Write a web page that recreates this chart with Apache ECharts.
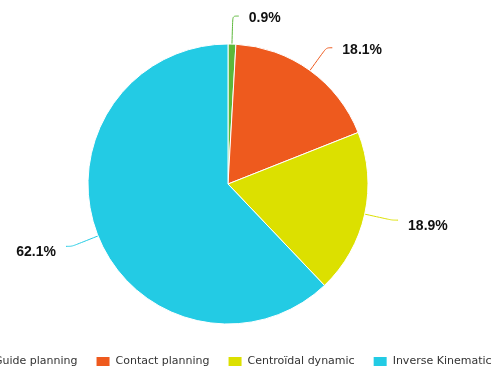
<!DOCTYPE html>
<html><head><meta charset="utf-8">
<script src="https://cdn.jsdelivr.net/npm/echarts@6/dist/echarts.min.js"></script>
<style>html,body{margin:0;padding:0;background:#fff}#c{width:495px;height:369px}</style>
</head><body><div id="c"></div>
<script>
var categories = ['Guide planning', 'Contact planning', 'Centroïdal dynamic', 'Inverse Kinematic'];
var values = [0.9, 18.1, 18.9, 62.1];
var colors = ['#5cb83a', '#ee5a1e', '#dce000', '#23cbe4'];

var chart = echarts.init(document.getElementById('c'));
chart.setOption({
  animation: false,
  color: colors,
  legend: {
    data: categories,
    bottom: -4,
    left: -32,
    width: 700,
    icon: 'rect',
    itemWidth: 15,
    itemHeight: 11,
    itemGap: 17,
    textStyle: { fontFamily: 'DejaVu Sans', fontSize: 11, color: '#333' }
  },
  series: [{
    type: 'pie',
    center: [228, 184],
    radius: 140,
    startAngle: 90,
    itemStyle: { borderColor: '#fff', borderWidth: 1 },
    label: {
      formatter: function (p) { return p.value.toFixed(1) + '%'; },
      fontFamily: 'Liberation Sans',
      fontWeight: 'bold',
      fontSize: 14,
      color: '#111',
      distanceToLabelLine: 10
    },
    labelLayout: function (p) { return { dy: p.labelRect.y < 100 ? 2.5 : 6 }; },
    labelLine: { length: 28, length2: 6, smooth: true },
    data: categories.map(function (c, i) { return { name: c, value: values[i] }; })
  }]
});
</script></body></html>
